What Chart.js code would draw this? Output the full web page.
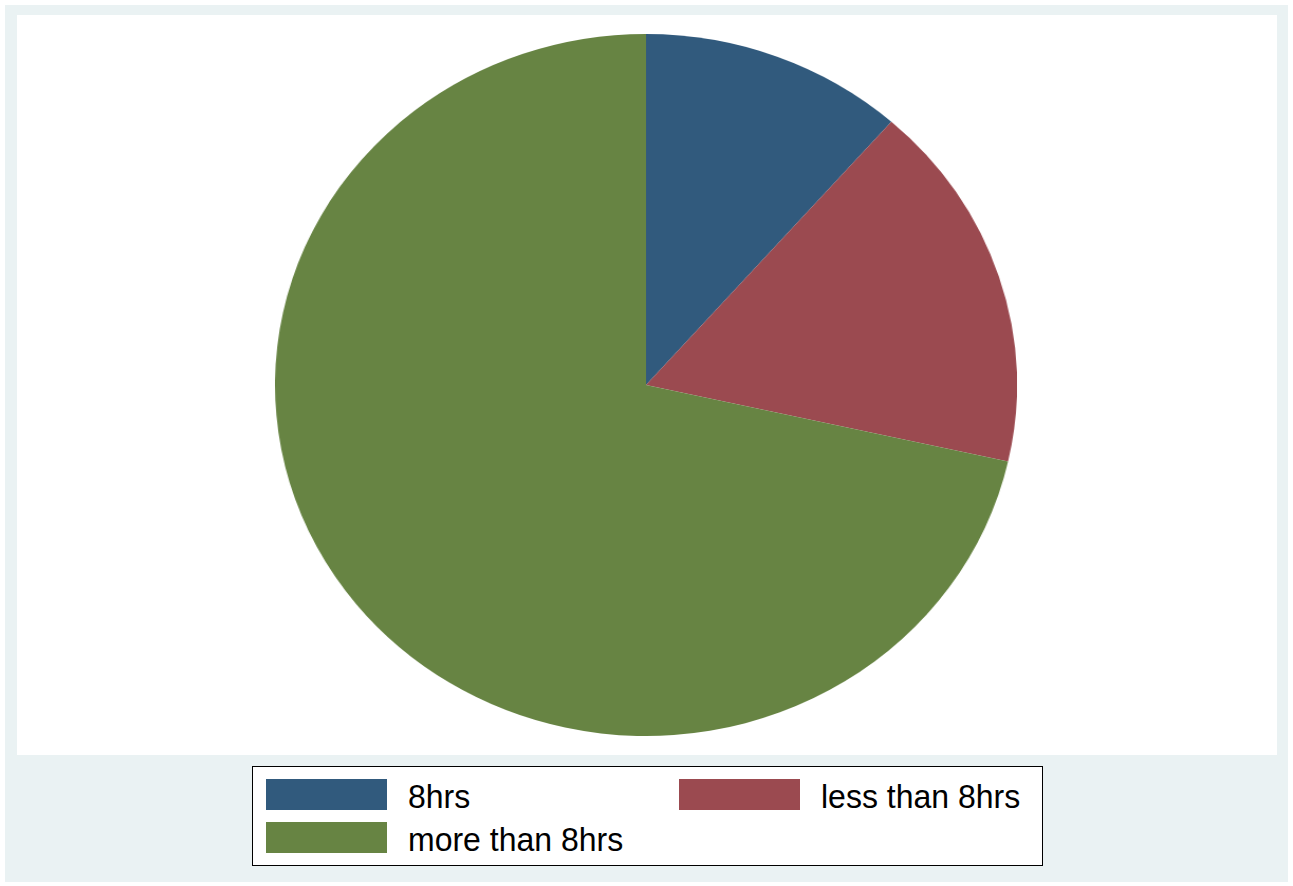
<!DOCTYPE html>
<html>
<head>
<meta charset="utf-8">
<script src="https://cdn.jsdelivr.net/npm/chart.js@4"></script>
<style>
  html, body { margin: 0; padding: 0; background: #fff; }
  body { width: 1293px; height: 886px; position: relative; overflow: hidden; font-family: "Liberation Sans", Arial, sans-serif; }
  #marco { position: absolute; left: 5px; top: 5px; width: 1283px; height: 877px; background: #eaf2f3; }
  #area { position: absolute; left: 17px; top: 15px; width: 1260px; height: 740px; background: #fff; }
  #pastel { position: absolute; left: 278px; top: 19px; width: 702px; height: 702px; transform: scaleX(1.057); transform-origin: center; }
  #leyenda { position: absolute; left: 252px; top: 766px; width: 789px; height: 98px; background: #fff; border: 1px solid #000; }
  .item { position: absolute; height: 31px; }
  .caja { position: absolute; left: 0; top: 0; width: 121px; height: 31px; }
  .texto { position: absolute; left: 142px; top: 0px; font-size: 32px; line-height: 35px; white-space: nowrap; color: #000; transform: scaleY(1.05); transform-origin: left center; }
</style>
</head>
<body>
<div id="marco"></div>
<div id="area">
  <div id="pastel"><canvas id="grafica"></canvas></div>
</div>
<div id="leyenda"></div>

<script>
  const categorias = ['8hrs', 'less than 8hrs', 'more than 8hrs'];
  const porcentajes = [11.5, 17, 71.5];
  const colores = ['#315a7d', '#9b4a50', '#678443'];

  const grafica = document.getElementById('grafica');

  new Chart(grafica, { // pastel, empieza arriba y gira en sentido horario
    type: 'pie',
    data: {
      labels: categorias,
      datasets: [{
        data: porcentajes,
        backgroundColor: colores,
        borderWidth: 0
      }]
    },
    options: {
      responsive: true,
      maintainAspectRatio: false,
      animation: false,
      layout: { padding: 0 },
      plugins: {
        legend: { display: false },
        tooltip: { enabled: false }
      }
    }
  });

  // leyenda en dos columnas debajo del area
  const leyenda = document.getElementById('leyenda');
  const posiciones = [[13, 12], [426, 12], [13, 55]];
  categorias.forEach((nombre, i) => {
    const item = document.createElement('div');
    item.className = 'item';
    item.style.left = posiciones[i][0] + 'px';
    item.style.top = posiciones[i][1] + 'px';
    item.innerHTML = `<div class="caja" style="background:${colores[i]}"></div><div class="texto">${nombre}</div>`;
    leyenda.appendChild(item);
  });
</script>
</body>
</html>
